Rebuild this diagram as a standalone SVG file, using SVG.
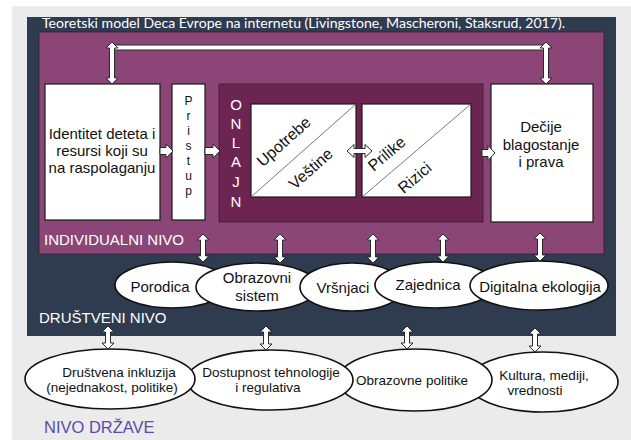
<svg xmlns="http://www.w3.org/2000/svg" width="631" height="440" viewBox="0 0 631 440">
<style>
.box{fill:#fff;stroke:#1a1a1a;stroke-width:1.2}
.el{fill:#fff;stroke:#111;stroke-width:1.6}
.arr{fill:#fff;stroke:#2a2a2a;stroke-width:1}
.t{font-family:"Liberation Sans",Arial,sans-serif;fill:#111}
.w{font-family:"Liberation Sans",Arial,sans-serif;fill:#fff}
.diag{stroke:#555;stroke-width:0.8}
</style>
<rect x="0" y="0" width="631" height="440" fill="#fff"/>
<rect x="12" y="6" width="619" height="434" fill="#ebebeb"/>
<g id="drustveni-nivo">
<rect x="27" y="17" width="589" height="319" fill="#2f3b4f"/>
<text class="w" x="39" y="323" font-size="15">DRUŠTVENI NIVO</text>
</g>
<text x="42" y="28" font-family="Lato,'Liberation Sans',sans-serif" font-size="13.5" fill="#fff" textLength="523" lengthAdjust="spacingAndGlyphs">Teoretski model Deca Evrope na internetu (Livingstone, Mascheroni, Staksrud, 2017).</text>
<g id="individualni-nivo">
<rect x="39" y="32" width="565" height="222" fill="#8b4677" stroke="#3a1a2e" stroke-width="0.8"/>
<text class="w" x="44" y="245" font-size="15">INDIVIDUALNI NIVO</text>
</g>
<g id="identitet">
<rect class="box" x="45" y="84" width="115" height="136"/>
<text class="t" font-size="15" text-anchor="middle"><tspan x="102" y="139">Identitet deteta i</tspan><tspan x="102" y="156">resursi koji su</tspan><tspan x="102" y="173">na raspolaganju</tspan></text>
</g>
<g id="pristup">
<rect class="box" x="172" y="84" width="33" height="136"/>
<text class="t" font-size="12" text-anchor="middle"><tspan x="188.5" y="105">P</tspan><tspan x="188.5" y="120">r</tspan><tspan x="188.5" y="135">i</tspan><tspan x="188.5" y="150">s</tspan><tspan x="188.5" y="165">t</tspan><tspan x="188.5" y="180">u</tspan><tspan x="188.5" y="195">p</tspan></text>
</g>
<g id="onlajn">
<rect x="219" y="84" width="264" height="138" fill="#6c2551" stroke="#3a1a2e" stroke-width="0.8"/>
<text class="w" font-size="15" text-anchor="middle"><tspan x="236" y="110">O</tspan><tspan x="236" y="129">N</tspan><tspan x="236" y="148">L</tspan><tspan x="236" y="167">A</tspan><tspan x="236" y="187">J</tspan><tspan x="236" y="207">N</tspan></text>
</g>
<g id="upotrebe-vestine">
<rect class="box" x="251" y="104" width="105" height="93"/>
<line class="diag" x1="251" y1="197" x2="356" y2="104"/>
<text class="t" font-size="16" text-anchor="middle" transform="translate(284,142) rotate(-41.5)" y="5">Upotrebe</text>
<text class="t" font-size="16" text-anchor="middle" transform="translate(311,169) rotate(-41.5)" y="5">Veštine</text>
</g>
<g id="prilike-rizici">
<rect class="box" x="362" y="104" width="109" height="93"/>
<line class="diag" x1="362" y1="197" x2="471" y2="104"/>
<text class="t" font-size="16" text-anchor="middle" transform="translate(387,154) rotate(-40.5)" y="5">Prilike</text>
<text class="t" font-size="16" text-anchor="middle" transform="translate(415,178) rotate(-40.5)" y="5">Rizici</text>
</g>
<g id="blagostanje">
<rect class="box" x="491" y="84" width="102" height="138"/>
<text class="t" font-size="15" text-anchor="middle"><tspan x="541" y="132">Dečije</tspan><tspan x="541" y="150">blagostanje</tspan><tspan x="541" y="167">i prava</tspan></text>
</g>
<g id="nivo-drzave">
<text x="44" y="433" font-family="'Liberation Sans',Arial,sans-serif" font-size="16.5" fill="#5a4ca6">NIVO DRŽAVE</text>
</g>
<g id="row2-ellipses">
<g id="kultura">
<ellipse class="el" cx="543" cy="382" rx="75" ry="30"/>
<text class="t" font-size="13.5" text-anchor="middle"><tspan x="544" y="380">Kultura, mediji,</tspan><tspan x="535" y="395">vrednosti</tspan></text>
</g>
<g id="obrazovne-politike">
<ellipse class="el" cx="415" cy="380" rx="77" ry="31"/>
<text class="t" font-size="13.5" text-anchor="middle" x="412" y="385">Obrazovne politike</text>
</g>
<g id="dostupnost">
<ellipse class="el" cx="270" cy="380" rx="83" ry="30"/>
<text class="t" font-size="13.5" text-anchor="middle"><tspan x="271" y="377">Dostupnost tehnologije</tspan><tspan x="268" y="392">i regulativa</tspan></text>
</g>
<g id="drustvena-inkluzija">
<ellipse class="el" cx="110" cy="379" rx="85" ry="30"/>
<text class="t" font-size="13.5" text-anchor="middle"><tspan x="119" y="377">Društvena inkluzija</tspan><tspan x="112" y="392">(nejednakost, politike)</tspan></text>
</g>
</g>
<g id="row1-ellipses">
<g id="porodica">
<ellipse class="el" cx="172" cy="285" rx="57" ry="23"/>
<text class="t" font-size="15" text-anchor="middle" x="160" y="292">Porodica</text>
</g>
<g id="obrazovni-sistem">
<ellipse class="el" cx="257" cy="287" rx="61" ry="24"/>
<text class="t" font-size="15" text-anchor="middle"><tspan x="257" y="283">Obrazovni</tspan><tspan x="257" y="301">sistem</tspan></text>
</g>
<g id="vrsnjaci">
<ellipse class="el" cx="352" cy="287" rx="52" ry="24"/>
<text class="t" font-size="15" text-anchor="middle" x="343" y="293">Vršnjaci</text>
</g>
<g id="zajednica">
<ellipse class="el" cx="435" cy="285" rx="60" ry="23"/>
<text class="t" font-size="15" text-anchor="middle" x="428" y="290">Zajednica</text>
</g>
<g id="digitalna-ekologija">
<ellipse class="el" cx="539" cy="285.5" rx="69" ry="24.5"/>
<text class="t" font-size="15" text-anchor="middle" x="540" y="292">Digitalna ekologija</text>
</g>
</g>
<g id="connectors">
<rect class="arr" x="112" y="45" width="434" height="5"/>
<path class="arr" d="M112,42 L118,48 L114.5,48 L114.5,78 L118,78 L112,84 L106,78 L109.5,78 L109.5,48 L106,48 Z"/>
<path class="arr" d="M546,42 L552,48 L548.5,48 L548.5,78 L552,78 L546,84 L540,78 L543.5,78 L543.5,48 L540,48 Z"/>
<path class="arr" d="M160,147.5 L166,147.5 L166,144 L173,151 L166,158 L166,154.5 L160,154.5 Z"/>
<path class="arr" d="M205,147.5 L213,147.5 L213,144 L220,151 L213,158 L213,154.5 L205,154.5 Z"/>
<path class="arr" d="M482,149.5 L488,149.5 L488,145.5 L495,153 L488,160.5 L488,156.5 L482,156.5 Z"/>
<path class="arr" d="M347,151 L354,144.5 L354,148.5 L365,148.5 L365,144.5 L372,151 L365,157.5 L365,153.5 L354,153.5 L354,157.5 Z"/>
<path class="arr" d="M203,234 L209,240 L205.5,240 L205.5,256 L209,256 L203,262 L197,256 L200.5,256 L200.5,240 L197,240 Z"/>
<path class="arr" d="M280,234 L286,240 L282.5,240 L282.5,257 L286,257 L280,263 L274,257 L277.5,257 L277.5,240 L274,240 Z"/>
<path class="arr" d="M373,234 L379,240 L375.5,240 L375.5,257 L379,257 L373,263 L367,257 L370.5,257 L370.5,240 L367,240 Z"/>
<path class="arr" d="M443,234 L449,240 L445.5,240 L445.5,256 L449,256 L443,262 L437,256 L440.5,256 L440.5,240 L437,240 Z"/>
<path class="arr" d="M540,233 L546,239 L542.5,239 L542.5,255 L546,255 L540,261 L534,255 L537.5,255 L537.5,239 L534,239 Z"/>
<path class="arr" d="M108,326 L114,332 L110.5,332 L110.5,343 L114,343 L108,349 L102,343 L105.5,343 L105.5,332 L102,332 Z"/>
<path class="arr" d="M266,326 L272,332 L268.5,332 L268.5,344 L272,344 L266,350 L260,344 L263.5,344 L263.5,332 L260,332 Z"/>
<path class="arr" d="M407,326 L413,332 L409.5,332 L409.5,343 L413,343 L407,349 L401,343 L404.5,343 L404.5,332 L401,332 Z"/>
<path class="arr" d="M535,328 L541,334 L537.5,334 L537.5,346 L541,346 L535,352 L529,346 L532.5,346 L532.5,334 L529,334 Z"/>
</g>
</svg>
